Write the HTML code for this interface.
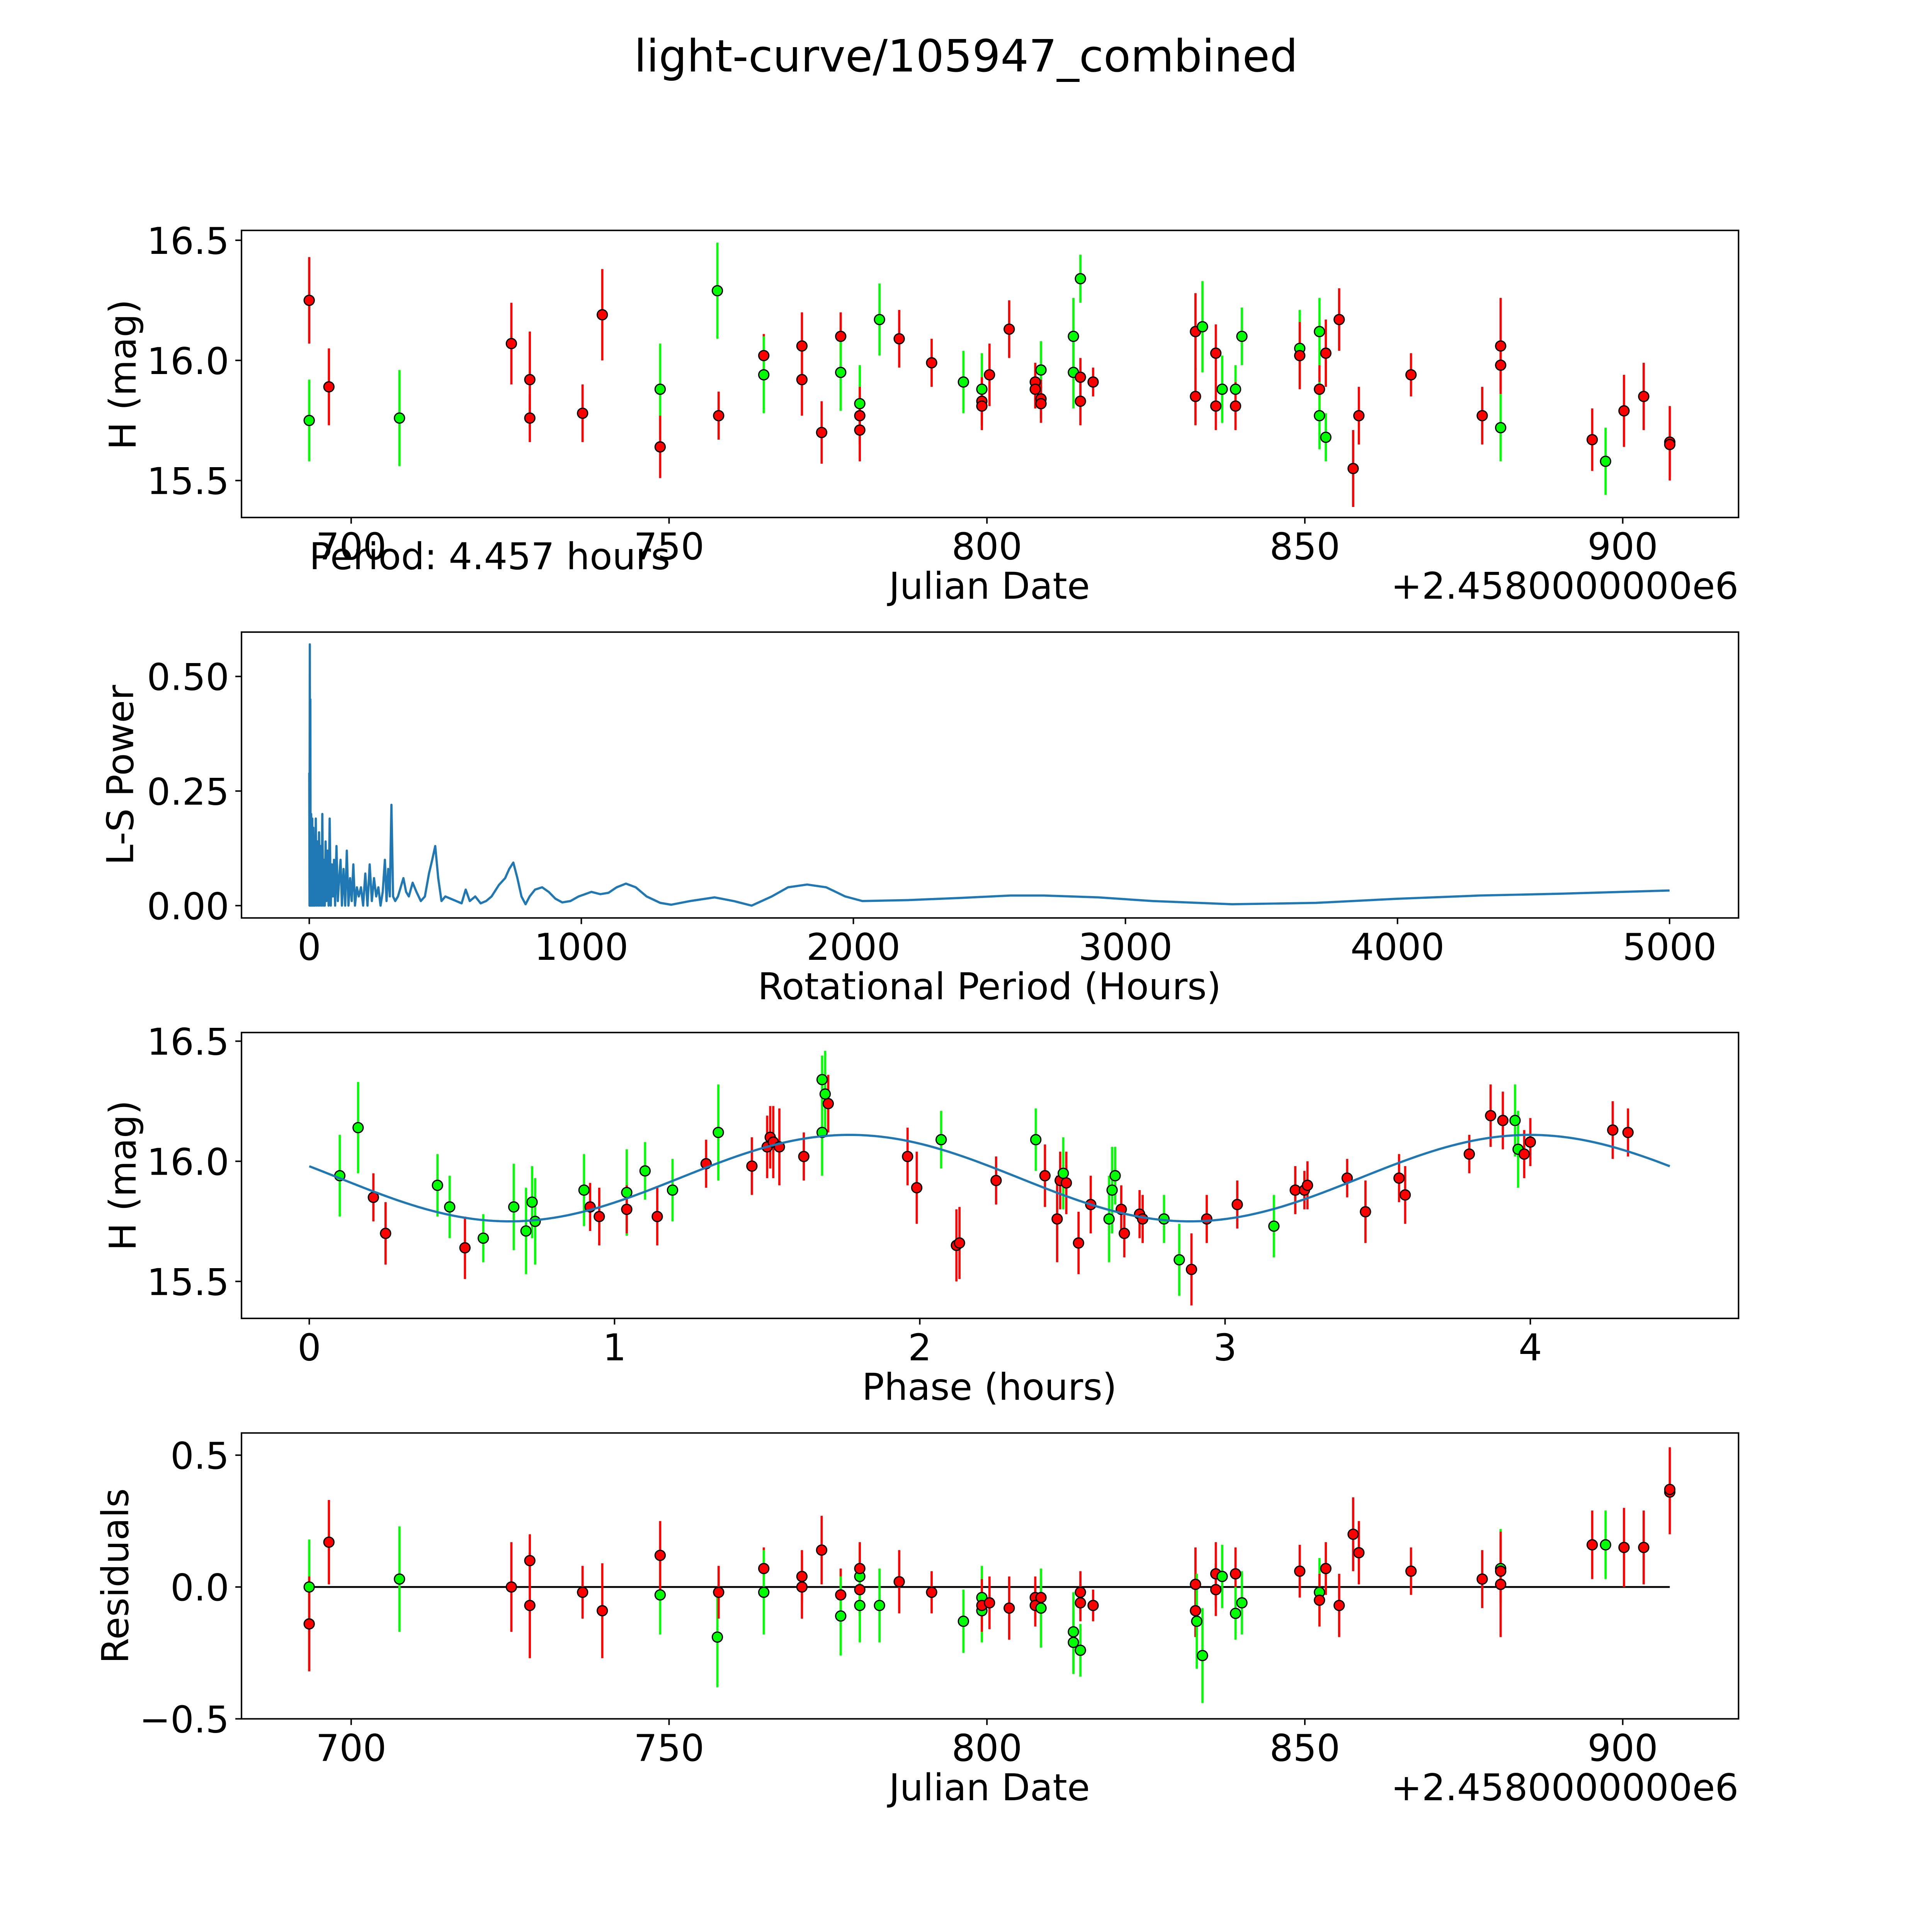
<!DOCTYPE html>
<html><head><meta charset="utf-8"><style>
html,body{margin:0;padding:0;background:#fff;width:100%;height:100%;overflow:hidden}
svg{display:block;width:100vw;height:100vh}
text{font-family:"DejaVu Sans","Liberation Sans",sans-serif;fill:#000}
</style></head><body>
<svg id="fig" xmlns="http://www.w3.org/2000/svg" viewBox="0 0 1568 1568" preserveAspectRatio="none">
<rect width="1568" height="1568" fill="#fff"/>
<text x="784" y="58" font-size="36" text-anchor="middle">light-curve/105947_combined</text>
<g id="p1"></g>
<g id="p2"></g>
<g id="p3"></g>
<g id="p4"></g>
</svg>
<script>
// ---- Panel 1: light curve ----
const lcDates=[693.4,693.4,696.5,707.6,725.2,728.1,728.1,736.4,739.5,748.6,
748.6,757.6,757.8,764.9,764.9,770.9,770.9,774.0,777.0,777.0,
780.0,780.0,780.0,783.1,786.2,791.3,796.3,799.2,799.2,799.2,
800.4,803.5,807.6,807.6,808.5,808.5,808.5,813.6,813.6,814.7,
814.7,814.7,816.7,832.8,833.9,832.8,836.0,836.0,837.0,839.1,
839.1,840.1,849.2,849.2,852.3,852.3,852.3,853.3,853.3,855.4,
857.6,858.5,866.7,877.9,880.8,880.8,880.8,895.2,897.3,900.2,
903.3,907.4,907.4];
const lcMags=[16.25,15.75,15.89,15.76,16.07,15.92,15.76,15.78,16.19,15.88,
15.64,16.29,15.77,16.02,15.94,16.06,15.92,15.70,16.10,15.95,
15.82,15.77,15.71,16.17,16.09,15.99,15.91,15.88,15.83,15.81,
15.94,16.13,15.91,15.88,15.96,15.84,15.82,16.10,15.95,16.34,
15.93,15.83,15.91,16.12,16.14,15.85,16.03,15.81,15.88,15.88,
15.81,16.10,16.05,16.02,16.12,15.88,15.77,16.03,15.68,16.17,
15.55,15.77,15.94,15.77,16.06,15.98,15.72,15.67,15.58,15.79,
15.85,15.66,15.65];
const lcColors=("rgrgrrrrrg"+"rgrrgrrrrg"+"grrgrrggrr"+"rrrrgrrggg"+"rrrrgrrrgg"+"rggrgrgrgr"+"rrrrrrgrgr"+"rrr").split("");
const lcErr=[0.18,0.17,0.16,0.2,0.17,0.2,0.1,0.12,0.19,0.19,
0.13,0.2,0.1,0.09,0.16,0.14,0.15,0.13,0.1,0.16,
0.16,0.12,0.13,0.15,0.12,0.1,0.13,0.15,0.1,0.1,
0.13,0.12,0.08,0.08,0.12,0.08,0.08,0.16,0.15,0.1,
0.08,0.1,0.06,0.16,0.19,0.12,0.12,0.1,0.14,0.1,
0.1,0.12,0.16,0.14,0.14,0.1,0.14,0.14,0.1,0.13,
0.16,0.12,0.09,0.12,0.2,0.1,0.14,0.13,0.14,0.15,
0.14,0.15,0.15];
// ---- Panel 2: periodogram ----
const lsPeriods=[0,1,2,3,4,5,7,9,11,13,
15,17,19,21,24,27,30,33,36,39,
42,45,48,51,54,57,60,63,67,71,
75,79,83,87,91,95,100,105,110,115,
120,126,132,138,144,150,156,162,168,175,
182,190,198,206,214,222,230,238,246,254,
262,270,278,284,290,296,302,308,316,326,
336,346,356,366,380,394,410,425,440,452,
463,474,486,500,520,540,560,575,590,610,
630,650,670,697,720,735,750,765,780,795,
810,830,856,880,905,930,960,990,1037,1070,
1100,1130,1164,1200,1240,1290,1330,1400,1490,1560,
1626,1700,1760,1830,1900,1970,2033,2200,2400,2577,
2700,2900,3100,3392,3700,4000,4300,4600,5000];
const lsPower=[0.29,0.0,0.57,0.0,0.45,0.0,0.2,0.0,0.19,0.0,
0.17,0.0,0.15,0.0,0.19,0.0,0.14,0.0,0.16,0.0,
0.13,0.0,0.2,0.0,0.1,0.0,0.14,0.01,0.12,0.0,
0.19,0.0,0.09,0.02,0.1,0.0,0.13,0.01,0.06,0.1,
0.0,0.08,0.0,0.12,0.0,0.06,0.01,0.09,0.0,0.04,
0.02,0.04,0.0,0.07,0.0,0.09,0.01,0.06,0.02,0.04,
0.0,0.03,0.1,0.01,0.08,0.02,0.22,0.02,0.01,0.02,
0.04,0.06,0.03,0.02,0.05,0.03,0.01,0.02,0.07,0.10,
0.13,0.06,0.01,0.02,0.015,0.01,0.005,0.035,0.01,0.02,
0.005,0.01,0.02,0.045,0.06,0.08,0.094,0.06,0.02,0.003,
0.02,0.035,0.04,0.03,0.015,0.007,0.01,0.02,0.03,0.025,
0.028,0.04,0.048,0.04,0.02,0.006,0.002,0.01,0.018,0.01,
0.0,0.02,0.04,0.046,0.04,0.02,0.01,0.012,0.017,0.022,
0.022,0.018,0.01,0.003,0.006,0.015,0.022,0.026,0.033];
// ---- Panel 3: phase folded ----
const phPhase=[0.10,0.16,0.21,0.25,0.42,0.46,0.51,0.57,0.67,0.71,
0.73,0.74,0.90,0.92,0.95,1.04,1.04,1.10,1.14,1.19,
1.30,1.34,1.45,1.50,1.51,1.52,1.54,1.62,1.68,1.68,
1.69,1.70,1.96,1.99,2.07,2.12,2.13,2.25,2.38,2.41,
2.45,2.46,2.47,2.48,2.52,2.56,2.62,2.63,2.64,2.66,
2.67,2.72,2.73,2.80,2.85,2.89,2.94,3.04,3.16,3.23,
3.26,3.27,3.40,3.46,3.57,3.59,3.80,3.87,3.91,3.95,
3.96,3.98,4.00,4.27,4.32];
const phMags=[15.94,16.14,15.85,15.70,15.90,15.81,15.64,15.68,15.81,15.71,
15.83,15.75,15.88,15.81,15.77,15.87,15.80,15.96,15.77,15.88,
15.99,16.12,15.98,16.06,16.10,16.08,16.06,16.02,16.12,16.34,
16.28,16.24,16.02,15.89,16.09,15.65,15.66,15.92,16.09,15.94,
15.76,15.92,15.95,15.91,15.66,15.82,15.76,15.88,15.94,15.80,
15.70,15.78,15.76,15.76,15.59,15.55,15.76,15.82,15.73,15.88,
15.88,15.90,15.93,15.79,15.93,15.86,16.03,16.19,16.17,16.17,
16.05,16.03,16.08,16.13,16.12];
const phColors=("ggrrggrggg"+"gggrrgrgrg"+"rgrrrrrrgg"+"grrrgrrrgr"+"rrgrrrgggr"+"rrrggrrrgr"+"rrrrrrrrrg"+"grrrr").split("");
const phErr=[0.17,0.19,0.1,0.13,0.13,0.13,0.13,0.1,0.18,0.18,
0.15,0.18,0.15,0.1,0.12,0.18,0.1,0.12,0.12,0.13,
0.1,0.2,0.12,0.13,0.13,0.15,0.16,0.1,0.18,0.1,
0.18,0.12,0.12,0.15,0.12,0.15,0.15,0.1,0.13,0.13,
0.18,0.12,0.15,0.13,0.13,0.12,0.18,0.18,0.12,0.1,
0.1,0.1,0.1,0.1,0.15,0.15,0.1,0.1,0.13,0.1,
0.08,0.1,0.08,0.13,0.1,0.12,0.08,0.13,0.12,0.15,
0.16,0.1,0.1,0.12,0.1];
const fitMean=15.93, fitAmp=0.18, fitPeak=1.77, fitHalfPeriod=2.2285, fitEnd=4.457;
// ---- Panel 4: residuals ----
const resDates=[693.4,693.4,696.5,707.6,725.2,728.1,728.1,736.4,739.5,748.6,
748.6,757.6,757.8,764.9,764.9,770.9,770.9,774.0,777.0,777.0,
780.0,780.0,780.0,780.0,783.1,786.2,791.3,796.3,799.2,799.2,
799.2,800.4,803.5,807.6,807.6,808.5,808.5,813.6,813.6,814.7,
814.7,814.7,816.7,832.8,832.8,833.0,833.9,836.0,836.0,837.0,
839.1,839.1,840.1,849.2,852.3,852.3,853.3,855.4,857.6,858.5,
866.7,877.9,880.8,880.8,880.8,895.2,897.3,900.2,903.3,907.4,
907.4];
const resVals=[0.00,-0.14,0.17,0.03,0.00,0.10,-0.07,-0.02,-0.09,-0.03,
0.12,-0.19,-0.02,0.07,-0.02,0.04,0.00,0.14,-0.03,-0.11,
0.04,-0.01,0.07,-0.07,-0.07,0.02,-0.02,-0.13,-0.04,-0.09,
-0.07,-0.06,-0.08,-0.04,-0.07,-0.04,-0.08,-0.17,-0.21,-0.24,
-0.02,-0.06,-0.07,0.01,-0.09,-0.13,-0.26,0.05,-0.01,0.04,
0.05,-0.10,-0.06,0.06,-0.02,-0.05,0.07,-0.07,0.20,0.13,
0.06,0.03,0.07,0.06,0.01,0.16,0.16,0.15,0.15,0.36,
0.37];
const resColors=("grrgrrrrrg"+"rgrrgrrrrg"+"grrggrrggg"+"rrrrrrgggg"+"rrrrrggrrg"+"rggrgrrrrr"+"rrgrrrgrrr"+"r").split("");
const resErr=[0.18,0.18,0.16,0.2,0.17,0.1,0.2,0.1,0.18,0.15,
0.13,0.19,0.1,0.08,0.16,0.1,0.12,0.13,0.1,0.15,
0.12,0.1,0.1,0.14,0.14,0.12,0.08,0.12,0.12,0.12,
0.1,0.1,0.12,0.08,0.08,0.07,0.15,0.15,0.12,0.1,
0.08,0.07,0.06,0.14,0.1,0.18,0.18,0.12,0.1,0.12,
0.1,0.1,0.12,0.1,0.13,0.1,0.1,0.12,0.14,0.12,
0.09,0.11,0.15,0.12,0.2,0.13,0.13,0.15,0.14,0.16,
0.16];

const NS="http://www.w3.org/2000/svg";
const FS=30;
function mk(parent,tag,attrs){const e=document.createElementNS(NS,tag);for(const k in attrs)e.setAttribute(k,attrs[k]);parent.appendChild(e);return e;}
function lin(d0,d1,r0,r1){return v=>r0+(v-d0)*(r1-r0)/(d1-d0);}
const L=196,R=1411;
function axes(g,top,bot,sx,sy,xt,xl,yt,yl){
  const fr=mk(g,'rect',{x:L,y:top,width:R-L,height:bot-top,fill:'none',stroke:'#000','stroke-width':1.2});
  
  
  xt.forEach((v,i)=>{const x=sx(v);mk(g,'line',{x1:x,x2:x,y1:bot,y2:bot+5,stroke:'#000','stroke-width':1.2});
    const t=mk(g,'text',{x:x,y:bot+34,'font-size':FS,'text-anchor':'middle'});t.textContent=xl[i];
    
    });
  yt.forEach((v,i)=>{const y=sy(v);mk(g,'line',{x1:L,x2:L-5,y1:y,y2:y,stroke:'#000','stroke-width':1.2});
    const t=mk(g,'text',{x:L-10,y:y+11,'font-size':FS,'text-anchor':'end'});t.textContent=yl[i];
    
    });
}
function label(g,x,y,txt,name,rot,anchor){const t=mk(g,'text',{x:x,y:y,'font-size':FS,'text-anchor':anchor||'middle'});
  if(rot)t.setAttribute('transform','rotate(-90 '+x+' '+y+')');t.textContent=txt;
  
  return t;}
function points(g,xs,ys,cs,es,sx,sy,name){
  xs.forEach((xv,i)=>{const x=sx(xv),c=cs[i]==='g'?'#00ff00':'#ff0000';
    const e=mk(g,'line',{x1:x,x2:x,y1:sy(ys[i]-es[i]),y2:sy(ys[i]+es[i]),stroke:c,'stroke-width':1.8});
    
    });
  xs.forEach((xv,i)=>{const c=cs[i]==='g'?'#00ff00':'#ff0000';
    const p=mk(g,'circle',{cx:sx(xv),cy:sy(ys[i]),r:4.1,fill:c,stroke:'#000','stroke-width':1});
    
    });
}
// Panel 1
(function(){const g=document.getElementById('p1');const top=187,bot=420;
 const sx=lin(700,900,285,1317), sy=lin(16.5,15.5,195,390);
 axes(g,top,bot,sx,sy,[700,750,800,850,900],['700','750','800','850','900'],[16.5,16,15.5],['16.5','16.0','15.5']);
 points(g,lcDates,lcMags,lcColors,lcErr,sx,sy,'observation');
 label(g,110,304,'H (mag)','y-axis-title',true);
 label(g,803,486,'Julian Date','x-axis-title');
 label(g,1411,486,'+2.4580000000e6','x-axis-offset',false,'end');
 label(g,251,462,'Period: 4.457 hours','period-annotation',false,'start');})();
// Panel 2
(function(){const g=document.getElementById('p2');const top=513,bot=745;
 const sx=lin(0,5000,251,1355), sy=lin(0,0.5,735,549);
 axes(g,top,bot,sx,sy,[0,1000,2000,3000,4000,5000],['0','1000','2000','3000','4000','5000'],[0,0.25,0.5],['0.00','0.25','0.50']);
 const d=lsPeriods.map((p,i)=>(i?'L':'M')+sx(p).toFixed(2)+' '+sy(lsPower[i]).toFixed(2)).join(' ');
 const pth=mk(g,'path',{d:d,fill:'none',stroke:'#1f77b4','stroke-width':1.8,'stroke-linejoin':'round'});
 
 
 label(g,108,629,'L-S Power','y-axis-title',true);
 label(g,803,811,'Rotational Period (Hours)','x-axis-title');})();
// Panel 3
(function(){const g=document.getElementById('p3');const top=838,bot=1070;
 const sx=lin(0,4,251,1242), sy=lin(16.5,15.5,845,1040);
 axes(g,top,bot,sx,sy,[0,1,2,3,4],['0','1','2','3','4'],[16.5,16,15.5],['16.5','16.0','15.5']);
 points(g,phPhase,phMags,phColors,phErr,sx,sy,'folded-observation');
 let d='';for(let k=0;k<=200;k++){const p=fitEnd*k/200;const m=fitMean+fitAmp*Math.cos(2*Math.PI*(p-fitPeak)/fitHalfPeriod);d+=(k?'L':'M')+sx(p).toFixed(2)+' '+sy(m).toFixed(2)+' ';}
 const f=mk(g,'path',{d:d,fill:'none',stroke:'#1f77b4','stroke-width':1.8});
 
 
 label(g,110,954,'H (mag)','y-axis-title',true);
 label(g,803,1136,'Phase (hours)','x-axis-title');})();
// Panel 4
(function(){const g=document.getElementById('p4');const top=1163,bot=1395;
 const sx=lin(700,900,285,1317), sy=lin(0.5,-0.5,1181,1395);
 axes(g,top,bot,sx,sy,[700,750,800,850,900],['700','750','800','850','900'],[0.5,0,-0.5],['0.5','0.0','\u22120.5']);
 const z=mk(g,'line',{x1:sx(693.4),x2:sx(907.4),y1:sy(0),y2:sy(0),stroke:'#000','stroke-width':1.5});
 
 
 points(g,resDates,resVals,resColors,resErr,sx,sy,'residual');
 label(g,104,1279,'Residuals','y-axis-title',true);
 label(g,803,1461,'Julian Date','x-axis-title');
 label(g,1411,1461,'+2.4580000000e6','x-axis-offset',false,'end');})();
</script>
</body></html>
